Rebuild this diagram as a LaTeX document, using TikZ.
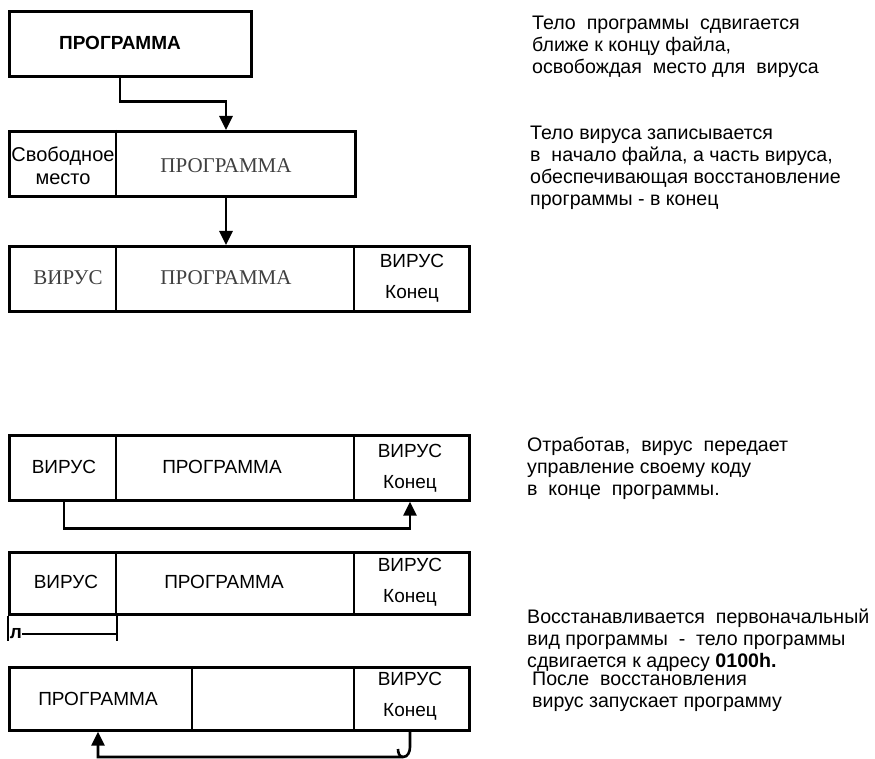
\documentclass[tikz,border=0pt]{standalone}
\usepackage{fontspec}
\setmainfont{Liberation Sans}
\newfontfamily\typeserif{Liberation Serif}
\usetikzlibrary{arrows.meta,positioning}

\begin{document}
\begin{tikzpicture}[x=1pt,y=-1pt,
	frame/.style={draw, line width=2.6pt, anchor=north west, minimum height=65, inner sep=0pt},
	wall/.style={line width=2.6pt},
	link/.style={line width=2.6pt, -{Triangle[width=13pt,length=14pt]}},
	word/.style={font=\fontsize{19}{23}\selectfont, align=center, inner sep=0pt},
	oldword/.style={font=\typeserif\fontsize{21}{23}\selectfont, text=black!75, inner sep=0pt},
	tail/.style={font=\fontsize{19}{31}\selectfont, align=center, inner sep=0pt},
	note/.style={font=\fontsize{19.6}{22}\selectfont, align=left, anchor=west, inner sep=0pt}]
			\useasboundingbox (0,0) rectangle (875,759);
			% upper part: the file before and after infection
			\node[frame, minimum width=242] (r1) at (8,10) {};
			\node[word, font=\bfseries\fontsize{19}{23}\selectfont] (p1) at (120,43) {ПРОГРАММА};
			\node[frame, minimum width=346] (r2) at (8,130) {};
			\draw[wall] (116,0 |- r2.north) -- (116,0 |- r2.south);
			\node[word, font=\fontsize{20}{23}\selectfont] (f2) at (63,166) {Свободное\\место};
			\node[oldword] (p2) at (226,166) {ПРОГРАММА};
			\node[frame, minimum width=460] (r3) at (8,245) {};
			\draw[wall] (116,0 |- r3.north) -- (116,0 |- r3.south);
			\draw[wall] (354,0 |- r3.north) -- (354,0 |- r3.south);
			\node[oldword] (v3) at (68,278) {ВИРУС};
			\node[oldword] (p3) at (226,278) {ПРОГРАММА};
			\node[tail] (k3) at (412,278) {ВИРУС\\Конец};
			\draw[link] (p1 |- r1.south) -- ++(0,24) -| (p2 |- r2.north);
			\draw[link] (p2 |- r2.south) -- (p3 |- r3.north);
			\node[note] (n1) at (532,47) {Тело\ \ программы\ \ сдвигается\\ближе к концу файла,\\освобождая\ \ место для\ \ вируса};
			\node[note] (n2) at (530,168) {Тело вируса записывается\\в\ \ начало файла, а часть вируса,\\обеспечивающая восстановление\\программы - в конец};
			% lower part: the infected file at work
			\node[frame, minimum width=460] (r4) at (8,434) {};
			\draw[wall] (116,0 |- r4.north) -- (116,0 |- r4.south);
			\draw[wall] (354,0 |- r4.north) -- (354,0 |- r4.south);
			\node[word] (v4) at (64,467) {ВИРУС};
			\node[word] (p4) at (222,467) {ПРОГРАММА};
			\node[tail] (k4) at (410,468) {ВИРУС\\Конец};
			\draw[link] (v4 |- r4.south) -- ++(0,27) -| (k4 |- r4.south);
			\node[note] (n3) at (527,468) {Отработав,\ \ вирус\ \ передает\\управление своему коду\\в\ \ конце\ \ программы.};
			\node[frame, minimum width=460, minimum height=62] (r5) at (8,551) {};
			\draw[wall] (116,0 |- r5.north) -- (116,0 |- r5.south);
			\draw[wall] (354,0 |- r5.north) -- (354,0 |- r5.south);
			\node[word] (v5) at (66,582) {ВИРУС};
			\node[word] (p5) at (224,582) {ПРОГРАММА};
			\node[tail] (k5) at (410,582) {ВИРУС\\Конец};
			\node[font=\bfseries\fontsize{19}{19}\selectfont, inner sep=0pt] (sh) at (16,634) {л};
			\draw[wall] (8,0 |- r5.south) -- (8,641);
			\draw[wall] (sh.east) -- (117,0 |- sh.east);
			\draw[wall] (117,0 |- r5.south) -- (117,641);
			\node[note] (n4) at (527,640) {Восстанавливается\ \ первоначальный\\вид программы\ \ -\ \ тело программы\\сдвигается к адресу {\bfseries 0100h.}};
			\node[frame, minimum width=460, minimum height=63] (r6) at (8,666) {};
			\draw[wall] (192,0 |- r6.north) -- (192,0 |- r6.south);
			\draw[wall] (354,0 |- r6.north) -- (354,0 |- r6.south);
			\node[word] (p6) at (98,699) {ПРОГРАММА};
			\node[tail] (k6) at (410,696) {ВИРУС\\Конец};
			\draw[link] (k6 |- r6.south) -- (410,747) to[out=-90,in=0] (403,757) -- (p6 |- 0,757) -- (p6 |- r6.south);
			\draw[wall] (403,757) to[out=180,in=-90] (398,749);
			\node[note] (n5) at (532,692) {После\ \ восстановления\\вирус запускает программу};
		\end{tikzpicture}
\end{document}
